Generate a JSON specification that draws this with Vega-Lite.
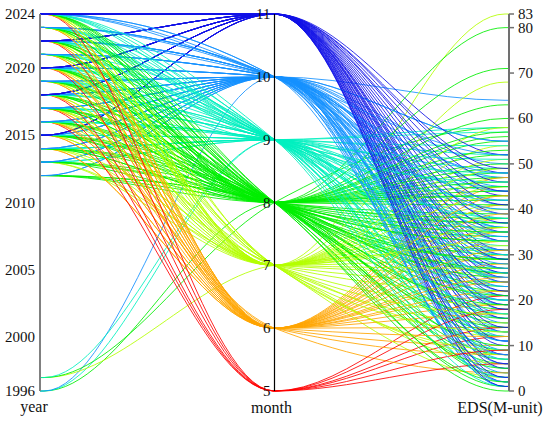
{
  "$schema": "https://vega.github.io/schema/vega-lite/v6.json",
  "width": 469,
  "height": 377,
  "autosize": "none",
  "padding": {"left": 40, "top": 14, "right": 41, "bottom": 33},
  "background": "white",
  "config": {"view": {"stroke": null}, "text": {"font": "Liberation Serif, Times New Roman, serif", "color": "#111111"}},
  "datasets": {
    "rows": [
      {"year":1996,"month":8,"eds":43},{"year":1996,"month":9,"eds":47},{"year":1996,"month":10,"eds":64},
      {"year":1997,"month":7,"eds":31},{"year":1997,"month":8,"eds":58},{"year":1997,"month":9,"eds":52},
      {"year":2012,"month":8,"eds":20},{"year":2012,"month":8,"eds":37},{"year":2012,"month":8,"eds":55},{"year":2012,"month":8,"eds":3},{"year":2012,"month":10,"eds":12},{"year":2012,"month":10,"eds":33},
      {"year":2013,"month":7,"eds":24},{"year":2013,"month":7,"eds":47},{"year":2013,"month":8,"eds":9},{"year":2013,"month":8,"eds":31},{"year":2013,"month":8,"eds":48},{"year":2013,"month":8,"eds":26},{"year":2013,"month":9,"eds":14},{"year":2013,"month":9,"eds":36},{"year":2013,"month":10,"eds":7},{"year":2013,"month":10,"eds":26},{"year":2013,"month":10,"eds":45},
      {"year":2014,"month":6,"eds":21},{"year":2014,"month":6,"eds":38},{"year":2014,"month":7,"eds":12},{"year":2014,"month":7,"eds":38},{"year":2014,"month":8,"eds":15},{"year":2014,"month":8,"eds":28},{"year":2014,"month":8,"eds":42},{"year":2014,"month":8,"eds":63},{"year":2014,"month":8,"eds":6},{"year":2014,"month":9,"eds":5},{"year":2014,"month":9,"eds":27},{"year":2014,"month":9,"eds":44},{"year":2014,"month":9,"eds":20},{"year":2014,"month":10,"eds":18},{"year":2014,"month":10,"eds":38},{"year":2014,"month":10,"eds":29},
      {"year":2015,"month":6,"eds":14},{"year":2015,"month":6,"eds":30},{"year":2015,"month":7,"eds":29},{"year":2015,"month":7,"eds":83},{"year":2015,"month":8,"eds":4},{"year":2015,"month":8,"eds":24},{"year":2015,"month":8,"eds":39},{"year":2015,"month":8,"eds":52},{"year":2015,"month":8,"eds":17},{"year":2015,"month":9,"eds":19},{"year":2015,"month":9,"eds":40},{"year":2015,"month":9,"eds":31},{"year":2015,"month":10,"eds":4},{"year":2015,"month":10,"eds":21},{"year":2015,"month":10,"eds":50},{"year":2015,"month":10,"eds":36},{"year":2015,"month":11,"eds":2},{"year":2015,"month":11,"eds":10},{"year":2015,"month":11,"eds":24},{"year":2015,"month":11,"eds":30},{"year":2015,"month":11,"eds":43},
      {"year":2016,"month":5,"eds":12},{"year":2016,"month":6,"eds":26},{"year":2016,"month":6,"eds":45},{"year":2016,"month":6,"eds":4},{"year":2016,"month":7,"eds":6},{"year":2016,"month":7,"eds":41},{"year":2016,"month":8,"eds":12},{"year":2016,"month":8,"eds":34},{"year":2016,"month":8,"eds":47},{"year":2016,"month":8,"eds":23},{"year":2016,"month":9,"eds":2},{"year":2016,"month":9,"eds":23},{"year":2016,"month":9,"eds":49},{"year":2016,"month":9,"eds":38},{"year":2016,"month":10,"eds":15},{"year":2016,"month":10,"eds":29},{"year":2016,"month":10,"eds":41},{"year":2016,"month":10,"eds":55},
      {"year":2017,"month":5,"eds":21},{"year":2017,"month":6,"eds":10},{"year":2017,"month":6,"eds":33},{"year":2017,"month":7,"eds":19},{"year":2017,"month":7,"eds":35},{"year":2017,"month":7,"eds":54},{"year":2017,"month":8,"eds":18},{"year":2017,"month":8,"eds":30},{"year":2017,"month":8,"eds":44},{"year":2017,"month":8,"eds":80},{"year":2017,"month":8,"eds":8},{"year":2017,"month":9,"eds":11},{"year":2017,"month":9,"eds":32},{"year":2017,"month":9,"eds":54},{"year":2017,"month":9,"eds":25},{"year":2017,"month":10,"eds":9},{"year":2017,"month":10,"eds":24},{"year":2017,"month":10,"eds":36},{"year":2017,"month":10,"eds":1},
      {"year":2018,"month":5,"eds":6},{"year":2018,"month":6,"eds":19},{"year":2018,"month":6,"eds":41},{"year":2018,"month":7,"eds":26},{"year":2018,"month":7,"eds":68},{"year":2018,"month":8,"eds":7},{"year":2018,"month":8,"eds":26},{"year":2018,"month":8,"eds":41},{"year":2018,"month":8,"eds":56},{"year":2018,"month":8,"eds":33},{"year":2018,"month":9,"eds":16},{"year":2018,"month":9,"eds":37},{"year":2018,"month":9,"eds":8},{"year":2018,"month":10,"eds":1},{"year":2018,"month":10,"eds":19},{"year":2018,"month":10,"eds":47},{"year":2018,"month":10,"eds":30},{"year":2018,"month":11,"eds":5},{"year":2018,"month":11,"eds":13},{"year":2018,"month":11,"eds":19},{"year":2018,"month":11,"eds":31},{"year":2018,"month":11,"eds":39},{"year":2018,"month":11,"eds":26},
      {"year":2019,"month":6,"eds":24},{"year":2019,"month":6,"eds":36},{"year":2019,"month":7,"eds":3},{"year":2019,"month":7,"eds":32},{"year":2019,"month":7,"eds":45},{"year":2019,"month":8,"eds":1},{"year":2019,"month":8,"eds":22},{"year":2019,"month":8,"eds":36},{"year":2019,"month":8,"eds":50},{"year":2019,"month":8,"eds":13},{"year":2019,"month":9,"eds":7},{"year":2019,"month":9,"eds":29},{"year":2019,"month":9,"eds":45},{"year":2019,"month":9,"eds":58},{"year":2019,"month":10,"eds":13},{"year":2019,"month":10,"eds":31},{"year":2019,"month":10,"eds":55},{"year":2019,"month":10,"eds":22},
      {"year":2020,"month":5,"eds":14},{"year":2020,"month":6,"eds":8},{"year":2020,"month":6,"eds":28},{"year":2020,"month":6,"eds":47},{"year":2020,"month":7,"eds":15},{"year":2020,"month":7,"eds":40},{"year":2020,"month":7,"eds":8},{"year":2020,"month":8,"eds":14},{"year":2020,"month":8,"eds":29},{"year":2020,"month":8,"eds":45},{"year":2020,"month":8,"eds":71},{"year":2020,"month":8,"eds":37},{"year":2020,"month":9,"eds":21},{"year":2020,"month":9,"eds":34},{"year":2020,"month":9,"eds":57},{"year":2020,"month":9,"eds":12},{"year":2020,"month":10,"eds":6},{"year":2020,"month":10,"eds":23},{"year":2020,"month":10,"eds":39},{"year":2020,"month":10,"eds":16},{"year":2020,"month":11,"eds":8},{"year":2020,"month":11,"eds":16},{"year":2020,"month":11,"eds":21},{"year":2020,"month":11,"eds":27},{"year":2020,"month":11,"eds":35},{"year":2020,"month":11,"eds":46},{"year":2020,"month":11,"eds":52},
      {"year":2021,"month":6,"eds":17},{"year":2021,"month":6,"eds":35},{"year":2021,"month":7,"eds":22},{"year":2021,"month":7,"eds":51},{"year":2021,"month":8,"eds":10},{"year":2021,"month":8,"eds":33},{"year":2021,"month":8,"eds":53},{"year":2021,"month":8,"eds":25},{"year":2021,"month":9,"eds":3},{"year":2021,"month":9,"eds":25},{"year":2021,"month":9,"eds":42},{"year":2021,"month":9,"eds":35},{"year":2021,"month":10,"eds":17},{"year":2021,"month":10,"eds":28},{"year":2021,"month":10,"eds":44},{"year":2021,"month":10,"eds":2},
      {"year":2022,"month":5,"eds":18},{"year":2022,"month":6,"eds":22},{"year":2022,"month":6,"eds":39},{"year":2022,"month":7,"eds":9},{"year":2022,"month":7,"eds":36},{"year":2022,"month":7,"eds":58},{"year":2022,"month":8,"eds":5},{"year":2022,"month":8,"eds":21},{"year":2022,"month":8,"eds":38},{"year":2022,"month":8,"eds":60},{"year":2022,"month":8,"eds":46},{"year":2022,"month":9,"eds":13},{"year":2022,"month":9,"eds":30},{"year":2022,"month":9,"eds":51},{"year":2022,"month":9,"eds":20},{"year":2022,"month":10,"eds":3},{"year":2022,"month":10,"eds":20},{"year":2022,"month":10,"eds":35},{"year":2022,"month":10,"eds":52},{"year":2022,"month":10,"eds":11},{"year":2022,"month":11,"eds":3},{"year":2022,"month":11,"eds":11},{"year":2022,"month":11,"eds":18},{"year":2022,"month":11,"eds":25},{"year":2022,"month":11,"eds":33},{"year":2022,"month":11,"eds":41},{"year":2022,"month":11,"eds":48},
      {"year":2023,"month":6,"eds":12},{"year":2023,"month":6,"eds":31},{"year":2023,"month":7,"eds":27},{"year":2023,"month":7,"eds":43},{"year":2023,"month":7,"eds":17},{"year":2023,"month":8,"eds":16},{"year":2023,"month":8,"eds":27},{"year":2023,"month":8,"eds":43},{"year":2023,"month":8,"eds":49},{"year":2023,"month":8,"eds":0},{"year":2023,"month":9,"eds":9},{"year":2023,"month":9,"eds":26},{"year":2023,"month":9,"eds":38},{"year":2023,"month":9,"eds":48},{"year":2023,"month":10,"eds":11},{"year":2023,"month":10,"eds":27},{"year":2023,"month":10,"eds":42},{"year":2023,"month":10,"eds":34},
      {"year":2024,"month":5,"eds":9},{"year":2024,"month":6,"eds":25},{"year":2024,"month":6,"eds":43},{"year":2024,"month":7,"eds":13},{"year":2024,"month":7,"eds":33},{"year":2024,"month":7,"eds":49},{"year":2024,"month":8,"eds":2},{"year":2024,"month":8,"eds":19},{"year":2024,"month":8,"eds":35},{"year":2024,"month":8,"eds":57},{"year":2024,"month":8,"eds":29},{"year":2024,"month":9,"eds":17},{"year":2024,"month":9,"eds":33},{"year":2024,"month":9,"eds":46},{"year":2024,"month":9,"eds":1},{"year":2024,"month":10,"eds":8},{"year":2024,"month":10,"eds":25},{"year":2024,"month":10,"eds":48},{"year":2024,"month":10,"eds":40},{"year":2024,"month":11,"eds":6},{"year":2024,"month":11,"eds":14},{"year":2024,"month":11,"eds":22},{"year":2024,"month":11,"eds":29},{"year":2024,"month":11,"eds":37},{"year":2024,"month":11,"eds":44},{"year":2024,"month":11,"eds":49},{"year":2024,"month":11,"eds":1}
    ],
    "ticks": [
      {"axis":"year","v":1996},{"axis":"year","v":2000},{"axis":"year","v":2005},{"axis":"year","v":2010},{"axis":"year","v":2015},{"axis":"year","v":2020},{"axis":"year","v":2024},
      {"axis":"month","v":5},{"axis":"month","v":6},{"axis":"month","v":7},{"axis":"month","v":8},{"axis":"month","v":9},{"axis":"month","v":10},{"axis":"month","v":11},
      {"axis":"eds","v":0},{"axis":"eds","v":10},{"axis":"eds","v":20},{"axis":"eds","v":30},{"axis":"eds","v":40},{"axis":"eds","v":50},{"axis":"eds","v":60},{"axis":"eds","v":70},{"axis":"eds","v":80},{"axis":"eds","v":83}
    ],
    "one": [{}]
  },
  "layer": [
    {
      "data": {"name": "rows"},
      "transform": [
        {"window": [{"op": "row_number", "as": "id"}]},
        {"fold": ["year", "year", "month", "eds", "eds"], "as": ["key", "value"]},
        {"window": [{"op": "row_number", "as": "step"}], "groupby": ["id"]},
        {"calculate": "datum.key === 'year' ? (datum.value - 1996) / 28 : datum.key === 'month' ? (datum.value - 5) / 6 : datum.value / 83", "as": "norm"}
      ],
      "mark": {"type": "line", "interpolate": "monotone", "strokeWidth": 1, "opacity": 0.85},
      "encoding": {
        "x": {"field": "step", "type": "quantitative", "scale": {"domain": [1, 2, 3, 4, 5], "range": [0, 4, 234.5, 465, 469]}, "axis": null},
        "y": {"field": "norm", "type": "quantitative", "scale": {"domain": [0, 1], "nice": false, "zero": false}, "axis": null},
        "color": {"field": "month", "type": "ordinal", "scale": {"domain": [5, 6, 7, 8, 9, 10, 11], "range": ["#ff0000", "#ffa500", "#b4ff00", "#00ee00", "#00f0c0", "#1490ff", "#1010e6"]}, "legend": null},
        "detail": {"field": "id", "type": "nominal"}
      }
    },
    {
      "data": {"name": "one"},
      "mark": {"type": "rule", "color": "#808080", "strokeWidth": 2},
      "encoding": {
        "x": {"datum": 1, "type": "quantitative", "axis": null},
        "y": {"datum": 0, "type": "quantitative", "axis": null},
        "y2": {"datum": 1}
      }
    },
    {
      "data": {"name": "one"},
      "mark": {"type": "rule", "color": "#000000", "strokeWidth": 1.2},
      "encoding": {
        "x": {"datum": 3, "type": "quantitative", "axis": null},
        "y": {"datum": 0, "type": "quantitative", "axis": null},
        "y2": {"datum": 1}
      }
    },
    {
      "data": {"name": "one"},
      "mark": {"type": "rule", "color": "#707070", "strokeWidth": 2},
      "encoding": {
        "x": {"datum": 5, "type": "quantitative", "axis": null},
        "y": {"datum": 0, "type": "quantitative", "axis": null},
        "y2": {"datum": 1}
      }
    },
    {
      "data": {"name": "ticks"},
      "transform": [
        {"filter": "datum.axis === 'eds'"},
        {"calculate": "datum.v / 83", "as": "norm"}
      ],
      "mark": {"type": "rule", "color": "#707070", "strokeWidth": 1.5, "x2Offset": 5},
      "encoding": {
        "x": {"datum": 5, "type": "quantitative", "axis": null},
        "x2": {"datum": 5},
        "y": {"field": "norm", "type": "quantitative", "axis": null}
      }
    },
    {
      "data": {"name": "ticks"},
      "transform": [
        {"filter": "datum.axis === 'year'"},
        {"calculate": "(datum.v - 1996) / 28", "as": "norm"}
      ],
      "mark": {"type": "text", "align": "right", "baseline": "middle", "dx": -5, "fontSize": 15},
      "encoding": {
        "x": {"datum": 1, "type": "quantitative", "axis": null},
        "y": {"field": "norm", "type": "quantitative", "axis": null},
        "text": {"field": "v", "type": "quantitative", "format": "d"}
      }
    },
    {
      "data": {"name": "ticks"},
      "transform": [
        {"filter": "datum.axis === 'month'"},
        {"calculate": "(datum.v - 5) / 6", "as": "norm"}
      ],
      "mark": {"type": "text", "align": "right", "baseline": "middle", "dx": -4, "fontSize": 15},
      "encoding": {
        "x": {"datum": 3, "type": "quantitative", "axis": null},
        "y": {"field": "norm", "type": "quantitative", "axis": null},
        "text": {"field": "v", "type": "quantitative", "format": "d"}
      }
    },
    {
      "data": {"name": "ticks"},
      "transform": [
        {"filter": "datum.axis === 'eds'"},
        {"calculate": "datum.v / 83", "as": "norm"}
      ],
      "mark": {"type": "text", "align": "left", "baseline": "middle", "dx": 9, "fontSize": 15},
      "encoding": {
        "x": {"datum": 5, "type": "quantitative", "axis": null},
        "y": {"field": "norm", "type": "quantitative", "axis": null},
        "text": {"field": "v", "type": "quantitative", "format": "d"}
      }
    },
    {
      "data": {"name": "one"},
      "mark": {"type": "text", "text": "year", "align": "center", "baseline": "alphabetic", "dx": -6, "dy": 21, "fontSize": 16},
      "encoding": {
        "x": {"datum": 1, "type": "quantitative", "axis": null},
        "y": {"datum": 0, "type": "quantitative", "axis": null}
      }
    },
    {
      "data": {"name": "one"},
      "mark": {"type": "text", "text": "month", "align": "center", "baseline": "alphabetic", "dx": -3, "dy": 22, "fontSize": 16},
      "encoding": {
        "x": {"datum": 3, "type": "quantitative", "axis": null},
        "y": {"datum": 0, "type": "quantitative", "axis": null}
      }
    },
    {
      "data": {"name": "one"},
      "mark": {"type": "text", "text": "EDS(M-unit)", "align": "center", "baseline": "alphabetic", "dx": -9, "dy": 22, "fontSize": 16},
      "encoding": {
        "x": {"datum": 5, "type": "quantitative", "axis": null},
        "y": {"datum": 0, "type": "quantitative", "axis": null}
      }
    }
  ]
}
